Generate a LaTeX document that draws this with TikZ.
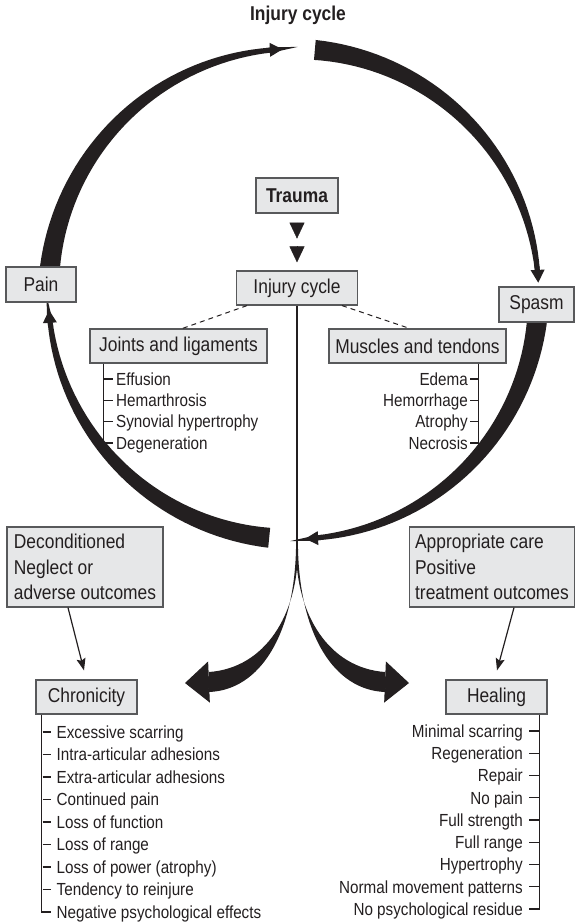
\documentclass[tikz,border=0pt]{standalone}
\usepackage{fontspec}
\setmainfont{Liberation Sans}[FakeStretch=0.87]
\usepackage{tikz}
\usetikzlibrary{arrows.meta,positioning}
\definecolor{icdark}{RGB}{35,31,32}
\definecolor{icedge}{RGB}{88,89,91}
\definecolor{icgray}{RGB}{230,231,232}
\tikzstyle{grayblock} = [rectangle, draw=icedge, fill=icgray, line width=1.2pt, minimum height=34pt, inner sep=0pt, text=icdark, font=\fontsize{20}{25.5}\selectfont]
\tikzstyle{listentry} = [inner sep=0pt, text=icdark, text height=12.5pt, text depth=0pt, font=\fontsize{17.5}{21}\selectfont]
\tikzstyle{bracket} = [line width=1.1pt, color=icdark]
\tikzstyle{dashlink} = [line width=1pt, color=icdark, dash pattern=on 5pt off 4pt]
\tikzstyle{thinarrow} = [line width=1.2pt, color=icdark, -{Stealth[length=12pt,width=9pt,inset=2pt]}]
\tikzstyle{cyclearrow} = [line width=5pt, color=icdark, -{Triangle[length=13pt,width=13pt]}]
\tikzstyle{forkarrow} = [line width=1pt, color=icdark, -{Triangle[length=24pt,width=41pt]}]
\tikzstyle{headonly} = [line width=0.4pt, color=icdark, -{Triangle[length=16pt,width=15pt]}]

\def\cycx{293.5}
\def\cycy{294}
\def\cycr{245}
% tapered part of the cycle: from angle, to angle, start width, end width
\newcommand{\taperarc}[4]{%
  \fill[icdark] plot[domain=#1:#2, samples=40]
    ({\cycx+(\cycr+(#3+(#4-#3)*(\x-(#1))/(#2-(#1)))/2)*cos(\x)},
     {\cycy+(\cycr+(#3+(#4-#3)*(\x-(#1))/(#2-(#1)))/2)*sin(\x)})
    -- plot[domain=#2:#1, samples=40]
    ({\cycx+(\cycr-(#3+(#4-#3)*(\x-(#1))/(#2-(#1)))/2)*cos(\x)},
     {\cycy+(\cycr-(#3+(#4-#3)*(\x-(#1))/(#2-(#1)))/2)*sin(\x)}) -- cycle;}

\begin{document}
\begin{tikzpicture}[x=1pt, y=-1pt]
\useasboundingbox (0,0) rectangle (575,923);
\coordinate (ctr) at (\cycx,\cycy);

% Cycle arcs
\taperarc{186.3}{264.5}{20}{5}
\draw[cyclearrow] ([shift={(263.5:\cycr)}]ctr) arc[start angle=263.5, end angle=267.5, radius=\cycr];
\taperarc{-85}{-5.6}{20}{5}
\draw[cyclearrow] ([shift={(-6.6:\cycr)}]ctr) arc[start angle=-6.6, end angle=-2.6, radius=\cycr];
\taperarc{6.6}{84.3}{20}{5}
\draw[cyclearrow] ([shift={(83.3:\cycr)}]ctr) arc[start angle=83.3, end angle=87.3, radius=\cycr];
\taperarc{95.7}{173.3}{20}{5}
\draw[cyclearrow] ([shift={(172.3:\cycr)}]ctr) arc[start angle=172.3, end angle=176.3, radius=\cycr];

% Boxes
\node (title) at (298,15) [text=icdark, font=\bfseries\fontsize{20}{24}\selectfont] {Injury cycle};
\node (trauma) [grayblock, minimum width=82pt, minimum height=35pt, font=\bfseries\fontsize{20}{24}\selectfont] at (297,195.5) {Trauma};
\node (injury) [grayblock, below of=trauma, node distance=92.5pt, minimum width=121pt] {Injury cycle};
\node (pain) [grayblock, minimum width=70pt, minimum height=35pt] at (41,284.5) {Pain};
\node (spasm) [grayblock, minimum width=75pt, minimum height=35pt] at (536.5,304.5) {Spasm};
\node (joints) [grayblock, minimum width=177pt] at (178.5,346) {Joints and ligaments};
\node (muscles) [grayblock, right of=joints, node distance=239pt, minimum width=177pt] {Muscles and tendons};
\node (decond) [grayblock, minimum height=80pt, inner xsep=7pt, align=left] at (85,567) {Deconditioned\\Neglect or\\adverse outcomes};
\node (approp) [grayblock, right of=decond, node distance=407pt, minimum height=80pt, inner xsep=6pt, align=left] {Appropriate care\\Positive\\treatment outcomes};
\node (chron) [grayblock, minimum width=101pt] at (86.5,697) {Chronicity};
\node (healing) [grayblock, right of=chron, node distance=410pt, minimum width=101pt] {Healing};

% Lists under the boxes
\foreach \txt [count=\i] in {Effusion, Hemarthrosis, Synovial hypertrophy, Degeneration} {
  \node (joint\i) [listentry, anchor=west] at (116,{357.7+21.33*\i}) {\txt};
  \draw[bracket] ([xshift=-12pt]joint\i.west) -- ([xshift=-3pt]joint\i.west);
}
\draw[bracket] ([xshift=14pt]joints.south west) |- ([xshift=-3pt]joint4.west);

\foreach \txt [count=\i] in {Edema, Hemorrhage, Atrophy, Necrosis} {
  \node (muscle\i) [listentry, anchor=east] at (468,{357.7+21.33*\i}) {\txt};
  \draw[bracket] ([xshift=2pt]muscle\i.east) -- ([xshift=10pt]muscle\i.east);
}
\draw[bracket] ([xshift=-28pt]muscles.south east) |- ([xshift=2pt]muscle4.east);

\foreach \txt [count=\i] in {Excessive scarring, Intra-articular adhesions, Extra-articular adhesions, Continued pain, Loss of function, Loss of range, Loss of power (atrophy), Tendency to reinjure, Negative psychological effects} {
  \node (chron\i) [listentry, anchor=west] at (56.5,{709.5+22.5*\i}) {\txt};
  \draw[bracket] ([xshift=-14pt]chron\i.west) -- ([xshift=-6pt]chron\i.west);
}
\draw[bracket] ([xshift=6pt]chron.south west) |- ([xshift=-6pt]chron9.west);

\foreach \txt [count=\i] in {Minimal scarring, Regeneration, Repair, No pain, Full strength, Full range, Hypertrophy, Normal movement patterns, No psychological residue} {
  \node (heal\i) [listentry, anchor=east] at (523,{708.75+22.25*\i}) {\txt};
  \draw[bracket] ([xshift=6pt]heal\i.east) -- ([xshift=15.5pt]heal\i.east);
}
\draw[bracket] ([xshift=-8.5pt]healing.south east) |- ([xshift=6pt]heal9.east);

% Links
\draw[headonly] ([yshift=-9pt]trauma.south) -- ([yshift=-25pt]trauma.south);
\draw[headonly] ([yshift=24pt]injury.north) -- ([yshift=8pt]injury.north);
\draw[dashlink] ([xshift=-50pt]injury.south) -- ([xshift=4pt]joints.north);
\draw[dashlink] ([xshift=45pt]injury.south) -- ([xshift=-8pt]muscles.north);
\draw[thinarrow] ([xshift=-17pt]decond.south) -- ([xshift=-2.5pt,yshift=9pt]chron.north);
\draw[thinarrow] ([xshift=22pt]approp.south) -- ([xshift=0.5pt,yshift=9pt]healing.north);

% Fork to the outcomes
\coordinate (fork) at (297,549);
\draw[line width=1.8pt, icdark] (injury.south) -- (fork);
\fill[icdark] ([xshift=-1pt]fork) .. controls (294,635) and (260,690) .. (209,692) -- (209,672) .. controls (265,668) and (298,615) .. ([xshift=1pt]fork) -- cycle;
\fill[icdark] ([xshift=1pt]fork) .. controls (300,635) and (334,690) .. (385,692) -- (385,672) .. controls (329,668) and (296,615) .. ([xshift=-1pt]fork) -- cycle;
\coordinate (chronbase) at (209,682);
\coordinate (chrontip) at (185,683);
\coordinate (healbase) at (385,682);
\coordinate (healtip) at (409,683);
\draw[forkarrow] (chronbase) -- (chrontip);
\draw[forkarrow] (healbase) -- (healtip);
\end{tikzpicture}
\end{document}
